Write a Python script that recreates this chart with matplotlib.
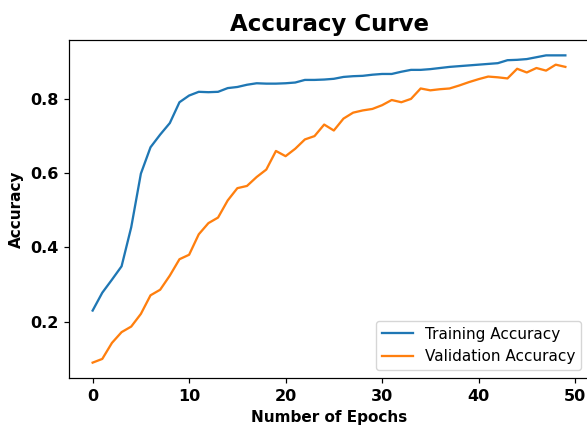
import matplotlib
matplotlib.use("Agg")
import matplotlib.pyplot as plt

epochs = list(range(50))
train_acc = [0.230, 0.278, 0.313, 0.349, 0.454, 0.598, 0.669, 0.703, 0.734, 0.790,
             0.808, 0.818, 0.817, 0.818, 0.828, 0.831, 0.837, 0.841, 0.840, 0.840,
             0.841, 0.843, 0.850, 0.850, 0.851, 0.853, 0.858, 0.860, 0.861, 0.864,
             0.866, 0.866, 0.872, 0.877, 0.877, 0.879, 0.882, 0.885, 0.887, 0.889,
             0.891, 0.893, 0.895, 0.903, 0.904, 0.906, 0.911, 0.916, 0.916, 0.916]
val_acc = [0.090, 0.100, 0.143, 0.172, 0.187, 0.221, 0.271, 0.286, 0.324, 0.368,
           0.380, 0.435, 0.465, 0.480, 0.526, 0.559, 0.565, 0.589, 0.609, 0.659,
           0.645, 0.665, 0.690, 0.699, 0.730, 0.714, 0.746, 0.762, 0.768, 0.772,
           0.782, 0.796, 0.790, 0.799, 0.827, 0.822, 0.825, 0.827, 0.835, 0.844,
           0.852, 0.859, 0.857, 0.854, 0.880, 0.870, 0.882, 0.875, 0.891, 0.885]

fig = plt.figure(figsize=(5.87, 4.26), dpi=100)
ax = fig.add_axes([69/587, 1-378/426, (589-69)/587, (378-40)/426])
ax.plot(epochs, train_acc, label="Training Accuracy", lw=1.65)
ax.plot(epochs, val_acc, label="Validation Accuracy", lw=1.65)
ax.set_title("Accuracy Curve", fontsize=16.5, fontweight="bold", pad=6.6)
ax.set_xlabel("Number of Epochs", fontsize=11, fontweight="bold", labelpad=4.4)
ax.set_ylabel("Accuracy", fontsize=11, fontweight="bold", labelpad=4.4)
for lab in ax.get_xticklabels() + ax.get_yticklabels():
    lab.set_fontweight("bold")
ax.tick_params(labelsize=11.5, length=3.85, width=0.88, pad=3.85)
for s in ax.spines.values():
    s.set_linewidth(0.88)
ax.legend(loc="lower right", fontsize=11)
fig.savefig("out.png", dpi=100)
